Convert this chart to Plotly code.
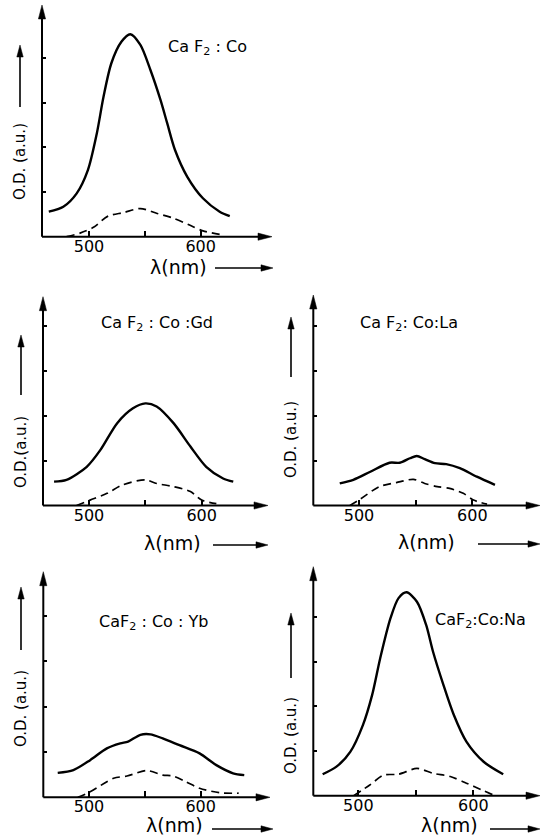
import math
import plotly.graph_objects as go

W, H = 545, 838

# ---------------- data (wavelength in nm, optical density in a.u.) ----------------
titles = ["Ca F<sub>2</sub> : Co", "Ca F<sub>2</sub> : Co :Gd", "Ca F<sub>2</sub>: Co:La",
          "CaF<sub>2</sub> : Co : Yb", "CaF<sub>2</sub>:Co:Na"]
ylabels = ["O.D. (a.u.)", "O.D.(a.u.)", "O.D. (a.u.)", "O.D. (a.u.)", "O.D. (a.u.)"]
xlabel = "λ(nm)"
xtick_vals = [500, 600]
xtick_text = ["500", "600"]
xminor_vals = [550]
ytick_vals = [1, 2, 3, 4]

co_solid_wl = [464, 477, 489, 499, 507, 513, 520, 529, 537, 546, 555, 564, 570, 577, 588, 602, 617, 626]
co_solid_od = [0.56, 0.67, 0.97, 1.49, 2.31, 3.13, 3.88, 4.36, 4.53, 4.29, 3.73, 3.06, 2.54, 1.94, 1.34, 0.86, 0.56, 0.46]
co_dash_wl = [480, 492, 504, 517, 531, 546, 561, 576, 590, 602, 620]
co_dash_od = [0.0, 0.08, 0.21, 0.46, 0.54, 0.63, 0.52, 0.41, 0.26, 0.13, 0.04]

gd_solid_wl = [469, 480, 498, 510, 525, 539, 550, 560, 575, 590, 604, 619, 628]
gd_solid_od = [0.53, 0.57, 0.86, 1.23, 1.83, 2.16, 2.27, 2.20, 1.83, 1.31, 0.86, 0.60, 0.53]
gd_dash_wl = [489, 501, 516, 530, 550, 560, 575, 590, 600, 613]
gd_dash_od = [0.0, 0.12, 0.27, 0.46, 0.57, 0.49, 0.42, 0.31, 0.12, 0.04]

la_solid_wl = [483, 495, 510, 527, 536, 545, 551, 558, 567, 577, 589, 604, 620]
la_solid_od = [0.49, 0.57, 0.75, 0.95, 0.95, 1.05, 1.10, 1.03, 0.94, 0.92, 0.83, 0.64, 0.46]
la_dash_wl = [492, 501, 518, 533, 548, 558, 569, 580, 592, 601, 613]
la_dash_od = [0.0, 0.14, 0.42, 0.51, 0.58, 0.49, 0.42, 0.38, 0.27, 0.12, 0.03]

yb_solid_wl = [472, 486, 501, 516, 528, 535, 546, 555, 566, 581, 599, 614, 629, 639]
yb_solid_od = [0.54, 0.60, 0.82, 1.08, 1.19, 1.23, 1.38, 1.39, 1.30, 1.15, 0.97, 0.71, 0.53, 0.49]
yb_dash_wl = [490, 501, 522, 534, 552, 566, 575, 587, 599, 617, 634]
yb_dash_od = [0.0, 0.12, 0.42, 0.47, 0.59, 0.49, 0.47, 0.34, 0.20, 0.10, 0.09]

na_solid_wl = [469, 481, 493, 504, 512, 519, 528, 535, 542, 551, 559, 565, 574, 583, 594, 609, 626]
na_solid_od = [0.48, 0.65, 0.98, 1.58, 2.25, 3.07, 3.97, 4.42, 4.55, 4.34, 3.82, 3.22, 2.48, 1.81, 1.21, 0.76, 0.48]
na_dash_wl = [496, 510, 522, 535, 551, 565, 580, 594, 609, 617]
na_dash_od = [0.0, 0.24, 0.46, 0.48, 0.61, 0.50, 0.43, 0.28, 0.11, 0.02]

series = [
    (co_solid_wl, co_solid_od, co_dash_wl, co_dash_od),
    (gd_solid_wl, gd_solid_od, gd_dash_wl, gd_dash_od),
    (la_solid_wl, la_solid_od, la_dash_wl, la_dash_od),
    (yb_solid_wl, yb_solid_od, yb_dash_wl, yb_dash_od),
    (na_solid_wl, na_solid_od, na_dash_wl, na_dash_od),
]

# ---------------- layout geometry (pixels) ----------------
# yx: y-axis x position, xy: x-axis y position, top: y-arrow tip, xtip: x-arrow tip,
# x500: pixel of 500 nm, k: px per nm, sp: px per y unit
geo = [
    dict(yx=42, xy=236.7, top=5, xtip=272, x500=89, k=1.117, sp=44.7),
    dict(yx=43, xy=505.5, top=296.7, xtip=268, x500=89, k=1.127, sp=45),
    dict(yx=313.3, xy=505.5, top=295, xtip=540, x500=359, k=1.133, sp=45),
    dict(yx=43.3, xy=797.3, top=571.7, xtip=270, x500=89, k=1.117, sp=45.3),
    dict(yx=313.3, xy=795.7, top=566.7, xtip=540, x500=358.3, k=1.15, sp=44.7),
]
title_pos = [(207, 48), (157, 323), (409, 323), (153, 622), (480, 620)]
ylab_pos = [(20, 162, 107, 45), (21, 452, 395, 335), (291, 440, 377, 317),
            (21, 709, 650, 587), (291, 736, 678, 613)]
# text centre x, text centre y, arrow start x, arrow end x, arrow y
xlab_pos = [(178, 267, 215, 273, 268), (172, 543, 213, 268, 545), (426, 542, 478, 540, 544),
            (174, 825, 212, 273, 829), (449, 825, 490, 540, 829)]

FONT = "DejaVu Sans"
fig = go.Figure()
shapes = []
annotations = []


def px(x):
    return x / W


def py(y):
    return 1 - y / H


def arrow(x0, y0, x1, y1, lw=2.0, hl=14.0, hw=3.6):
    """Line from (x0,y0) to (x1,y1) in pixels, with filled head at (x1,y1)."""
    dx, dy = x1 - x0, y1 - y0
    L = math.hypot(dx, dy)
    ux, uy = dx / L, dy / L
    bx, by = x1 - ux * hl, y1 - uy * hl
    nx, ny = -uy, ux
    shapes.append(dict(type="line", xref="paper", yref="paper",
                       x0=px(x0), y0=py(y0), x1=px(bx + ux * 2), y1=py(by + uy * 2),
                       line=dict(color="black", width=lw)))
    pts = [(x1, y1), (bx + nx * hw, by + ny * hw), (bx - nx * hw, by - ny * hw)]
    path = "M " + " L ".join(f"{px(a):.5f},{py(b):.5f}" for a, b in pts) + " Z"
    shapes.append(dict(type="path", xref="paper", yref="paper", path=path,
                       fillcolor="black", line=dict(color="black", width=0.5)))


for i, (g, s) in enumerate(zip(geo, series)):
    n = "" if i == 0 else str(i + 1)
    xr = [500 - (g["x500"] - g["yx"]) / g["k"], 500 + (g["xtip"] - g["x500"]) / g["k"]]
    yr = [0, (g["xy"] - g["top"]) / g["sp"]]
    fig.add_trace(go.Scatter(x=s[0], y=s[1], mode="lines", xaxis="x" + n, yaxis="y" + n,
                             line=dict(color="black", width=2.4, shape="spline", smoothing=0.8),
                             showlegend=False, hoverinfo="skip"))
    fig.add_trace(go.Scatter(x=s[2], y=s[3], mode="lines", xaxis="x" + n, yaxis="y" + n,
                             line=dict(color="black", width=1.7, dash="8px,5px",
                                       shape="spline", smoothing=0.8),
                             showlegend=False, hoverinfo="skip"))
    fig.update_layout(**{
        "xaxis" + n: dict(domain=[px(g["yx"]), px(g["xtip"])], range=xr, anchor="y" + n,
                          showgrid=False, zeroline=False, showline=False,
                          ticks="inside", ticklen=6, tickwidth=1.5, tickcolor="black",
                          tickvals=xtick_vals, ticktext=xtick_text, ticklabelstandoff=-2,
                          minor=dict(tickvals=xminor_vals, ticks="inside", ticklen=6,
                                     tickwidth=1.5, tickcolor="black", showgrid=False),
                          tickfont=dict(family=FONT, size=16, color="black")),
        "yaxis" + n: dict(domain=[py(g["xy"]), py(g["top"])], range=yr, anchor="x" + n,
                          showgrid=False, zeroline=False, showline=False,
                          ticks="inside", ticklen=4, tickwidth=1.5, tickcolor="black",
                          tickvals=ytick_vals, showticklabels=False),
    })
    # axes with arrow heads
    arrow(g["yx"], g["xy"], g["xtip"], g["xy"], lw=2.0, hl=14, hw=3.6)
    arrow(g["yx"], g["xy"], g["yx"], g["top"], lw=2.0, hl=14, hw=3.6)
    # title
    tx, ty = title_pos[i]
    annotations.append(dict(text=titles[i], x=px(tx), y=py(ty), xref="paper", yref="paper",
                            showarrow=False, xanchor="center", yanchor="middle",
                            font=dict(family=FONT, size=16, color="black")))
    # y label + arrow
    lx, ly, a0, a1 = ylab_pos[i]
    annotations.append(dict(text=ylabels[i], x=px(lx), y=py(ly), xref="paper", yref="paper",
                            showarrow=False, textangle=-90, xanchor="center", yanchor="middle",
                            font=dict(family=FONT, size=15, color="black")))
    arrow(lx, a0, lx, a1, lw=1.6, hl=12, hw=3.2)
    # x label + arrow
    cx, cy, b0, b1, by_ = xlab_pos[i]
    annotations.append(dict(text=xlabel, x=px(cx), y=py(cy), xref="paper", yref="paper",
                            showarrow=False, xanchor="center", yanchor="middle",
                            font=dict(family=FONT, size=19, color="black")))
    arrow(b0, by_, b1, by_, lw=1.6, hl=12, hw=3.2)

fig.update_layout(width=W, height=H, margin=dict(l=0, r=0, t=0, b=0),
                  paper_bgcolor="white", plot_bgcolor="white",
                  shapes=shapes, annotations=annotations, showlegend=False)
fig.write_html("out.html")
